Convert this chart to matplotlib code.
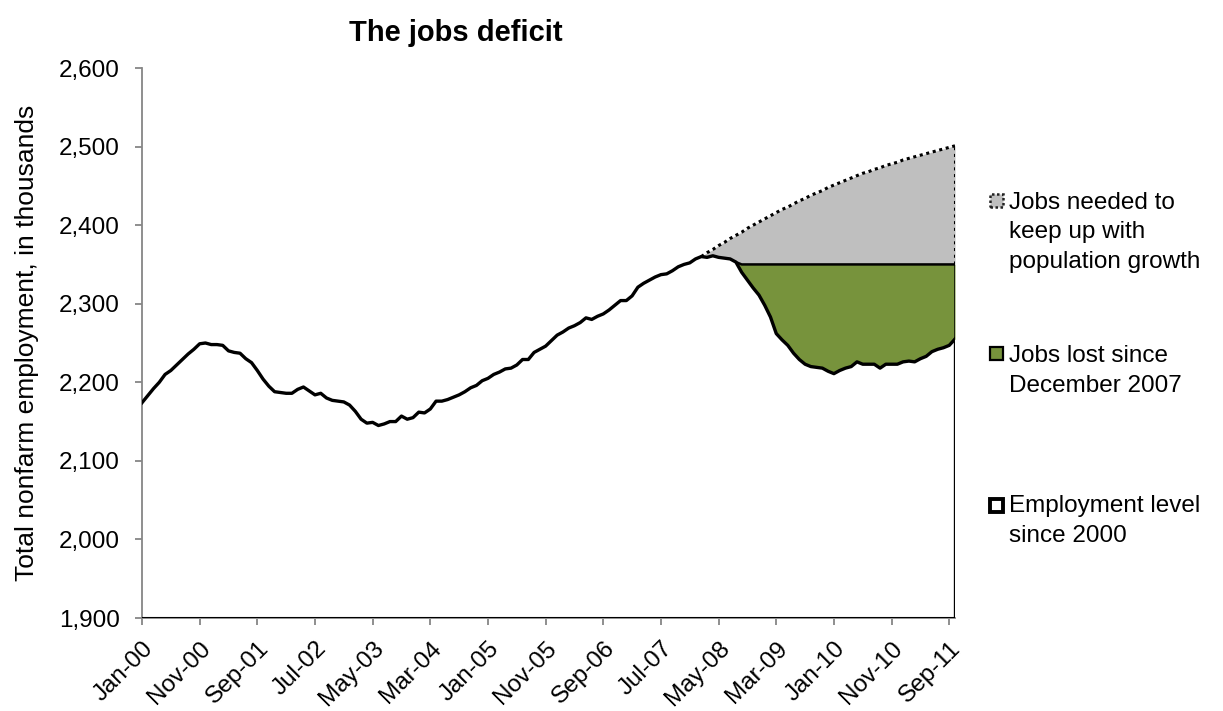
import numpy as np
import pandas as pd
import matplotlib.pyplot as plt
from matplotlib.patches import Rectangle
from matplotlib.ticker import FuncFormatter

plt.rcParams['font.family'] = ['Liberation Sans', 'DejaVu Sans']

# Total nonfarm employment, thousands, monthly Jan-00 .. Oct-11
employment = [
    2174, 2183, 2192, 2200, 2210, 2215, 2222, 2229, 2236, 2242,
    2249, 2250, 2248, 2248, 2247, 2240, 2238, 2237, 2230, 2225,
    2215, 2204, 2195, 2188, 2187, 2186, 2186, 2191, 2194, 2189,
    2184, 2186, 2180, 2177, 2176, 2175, 2171, 2163, 2153, 2148,
    2149, 2145, 2147, 2150, 2150, 2157, 2153, 2155, 2162, 2161,
    2166, 2176, 2176, 2178, 2181, 2184, 2188, 2193, 2196, 2202,
    2205, 2210, 2213, 2217, 2218, 2222, 2229, 2229, 2238, 2242,
    2246, 2253, 2260, 2264, 2269, 2272, 2276, 2282, 2280, 2284,
    2287, 2292, 2298, 2304, 2304, 2310, 2321, 2326, 2330, 2334,
    2337, 2338, 2342, 2347, 2350, 2352, 2357, 2360, 2359, 2361,
    2359, 2358, 2357, 2353, 2340, 2330, 2320, 2311, 2298, 2283,
    2262, 2254, 2247, 2237, 2229, 2223, 2220, 2219, 2218, 2214,
    2211, 2215, 2218, 2220, 2226, 2223, 2223, 2223, 2218, 2223,
    2223, 2223, 2226, 2227, 2226, 2230, 2233, 2239, 2242, 2244,
    2247, 2255,
]

# level that was lost since the peak (Dec 2007 reference)
lost_level = 2350
lost_start = 103

# employment needed to keep up with population growth, from Feb-08
needed_start = 97
needed = [
    2360, 2365, 2369, 2374, 2378, 2383, 2387, 2391, 2396, 2400,
    2404, 2408, 2412, 2416, 2420, 2423, 2427, 2431, 2434, 2438,
    2441, 2444, 2448, 2451, 2454, 2457, 2460, 2463, 2466, 2468,
    2471, 2473, 2476, 2478, 2480, 2483, 2485, 2487, 2489, 2491,
    2493, 2495, 2497, 2499, 2501,
]

dates = pd.date_range("2000-01-01", periods=len(employment), freq="MS")
tick_idx = list(range(0, len(employment), 10))
tick_labels = [dates[i].strftime("%b-%y") for i in tick_idx]

emp = np.array(employment, dtype=float)
x = np.arange(len(emp))

fig = plt.figure(figsize=(12.23, 7.11), dpi=100)
ax = fig.add_axes([142 / 1223, 1 - 618 / 711, (955 - 142) / 1223, (618 - 68) / 711])

# employment area (white with black border)
ax.fill_between(x, 1900, emp, color="white", zorder=2)
ax.plot(x, emp, color="black", lw=2.4, zorder=5, solid_joinstyle="round")
ax.plot([x[-1], x[-1]], [1900, emp[-1]], color="black", lw=2.4, zorder=5)
ax.plot([x[0], x[-1]], [1900, 1900], color="black", lw=1.5, zorder=4)

# jobs lost (green)
xl = x[lost_start:]
el = emp[lost_start:]
top_lost = np.maximum(el, lost_level)
ax.fill_between(xl, el, top_lost, color="#77933C", zorder=2, lw=0)
ax.plot(xl, top_lost, color="black", lw=1.8, zorder=4)
ax.plot([x[-1], x[-1]], [emp[-1], lost_level], color="black", lw=1.8, zorder=4)

# jobs needed (gray, dotted border)
xn = x[needed_start:]
nd = np.array(needed, dtype=float)
base = emp[needed_start:].copy()
base[xn >= lost_start] = np.maximum(base[xn >= lost_start], lost_level)
ax.fill_between(xn, base, nd, color="#BFBFBF", zorder=1, lw=0)
ax.plot(xn, nd, color="black", lw=2.2, ls=(0, (1, 1.2)), zorder=4)
ax.plot([x[-1], x[-1]], [lost_level, nd[-1]], color="black", lw=2.2, ls=(0, (1, 1.2)), zorder=4)

ax.set_xlim(0, len(emp) - 1)
ax.set_ylim(1900, 2600)
ax.set_yticks(range(1900, 2601, 100))
ax.yaxis.set_major_formatter(FuncFormatter(lambda v, p: f"{int(v):,}"))
ax.set_xticks(tick_idx)
ax.set_xticklabels(tick_labels, rotation=45, ha="right", rotation_mode="anchor")

for s in ["top", "right"]:
    ax.spines[s].set_visible(False)
for s in ["left", "bottom"]:
    ax.spines[s].set_color("#868686")
    ax.spines[s].set_linewidth(1.3)
ax.tick_params(axis="both", direction="out", length=5, width=1.3, color="#868686",
               labelsize=17.5, labelcolor="black")
ax.tick_params(axis="y", pad=11)
ax.tick_params(axis="x", pad=9)

fig.text(456 / 1223, 1 - 33 / 711, "The jobs deficit", ha="center", va="center",
         fontsize=21, fontweight="bold")
fig.text(27 / 1223, 1 - 343 / 711, "Total nonfarm employment, in thousands",
         rotation=90, ha="center", va="center", fontsize=19)

# legend on the right: (face, edge, style, width, marker centre y, last baseline y, label)
entries = [
    ("#BFBFBF", "#222222", (0, (1, 1)), 1.8, 200, 268, "Jobs needed to\nkeep up with\npopulation growth"),
    ("#77933C", "black", "solid", 1.6, 353, 392, "Jobs lost since\nDecember 2007"),
    ("white", "black", "solid", 2.8, 505, 542, "Employment level\nsince 2000"),
]
for fc, ec, ls, lw, yc, yb, label in entries:
    fig.patches.append(Rectangle((990 / 1223, 1 - (yc + 6.5) / 711), 13 / 1223, 13 / 711,
                                 transform=fig.transFigure, facecolor=fc, edgecolor=ec,
                                 linestyle=ls, linewidth=lw))
    fig.text(1009 / 1223, 1 - yb / 711, label, ha="left", va="baseline",
             fontsize=17.5, linespacing=1.45)

fig.savefig("out.png", dpi=100)
